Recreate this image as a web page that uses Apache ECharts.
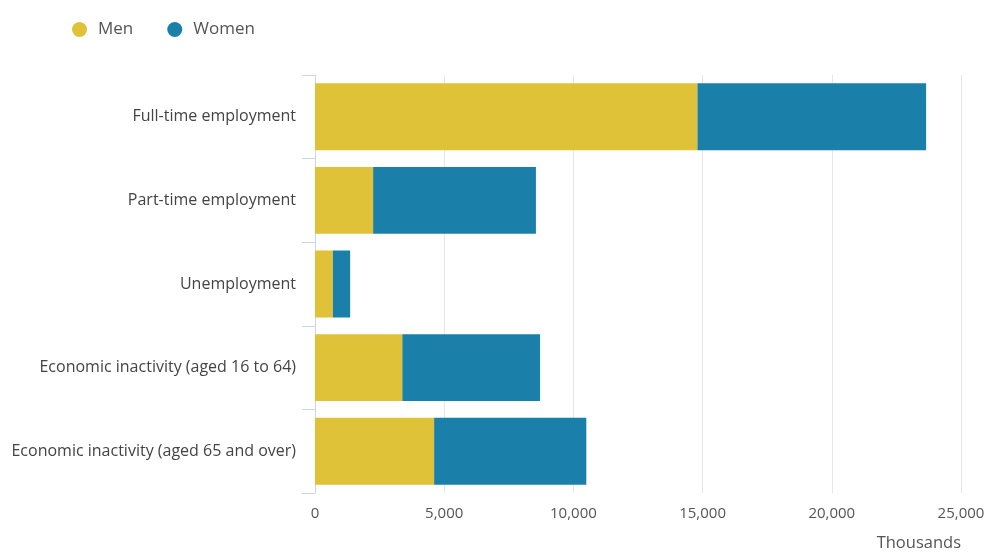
<!DOCTYPE html>
<html>
<head>
<meta charset="utf-8">
<script src="https://cdn.jsdelivr.net/npm/echarts@6/dist/echarts.min.js"></script>
<style>
html,body{margin:0;padding:0;background:#fff;}
#chart{width:990px;height:552px;}
</style>
</head>
<body>
<div id="chart"></div>
<script>
const categories = [
  "Full-time employment",
  "Part-time employment",
  "Unemployment",
  "Economic inactivity (aged 16 to 64)",
  "Economic inactivity (aged 65 and over)"
];
const menValues = [14800, 2250, 690, 3380, 4610];
const womenValues = [8850, 6300, 670, 5330, 5890];
const xTicks = [0, 5000, 10000, 15000, 20000, 25000];

const chart = echarts.init(document.getElementById('chart'));
const font = '"Open Sans", sans-serif';
chart.setOption({
  animation: false,
  textStyle: { fontFamily: font },
  legend: {
    left: 67, top: 16,
    icon: 'circle', itemWidth: 15, itemHeight: 15, itemGap: 34,
    textStyle: { fontFamily: font, fontSize: 17, color: '#555', padding: [0, 0, 0, 6] },
    data: ['Men', 'Women']
  },
  grid: { left: 315, right: 29, top: 75, bottom: 58, containLabel: false },
  xAxis: {
    type: 'value', min: xTicks[0], max: xTicks[xTicks.length - 1], interval: 5000,
    name: 'Thousands', nameLocation: 'end', nameGap: 0,
    nameTextStyle: { fontFamily: font, fontSize: 16.5, color: '#555', align: 'right', verticalAlign: 'top', padding: [42, 0, 0, 0] },
    axisLine: { show: false }, axisTick: { show: false },
    axisLabel: { fontFamily: font, fontSize: 15, color: '#555', margin: 13,
      formatter: v => v.toLocaleString('en-US') },
    splitLine: { show: true, lineStyle: { color: '#e6e6e6', width: 1 } }
  },
  yAxis: {
    type: 'category', data: categories, inverse: true,
    axisLine: { show: true, lineStyle: { color: '#ccd6eb', width: 1 } },
    axisTick: { show: true, length: 13, lineStyle: { color: '#ccd6eb' } },
    axisLabel: { fontFamily: font, fontSize: 16, color: '#444', margin: 19 },
    splitLine: { show: false }
  },
  series: [
    { name: 'Men', type: 'bar', stack: 'total', data: menValues, barCategoryGap: '20%',
      itemStyle: { color: '#e0c238' }, z: 1 },
    { name: 'Women', type: 'bar', stack: 'total', data: womenValues, barCategoryGap: '20%',
      itemStyle: { color: '#1a80aa' }, z: 1 }
  ]
});
</script>
</body>
</html>
